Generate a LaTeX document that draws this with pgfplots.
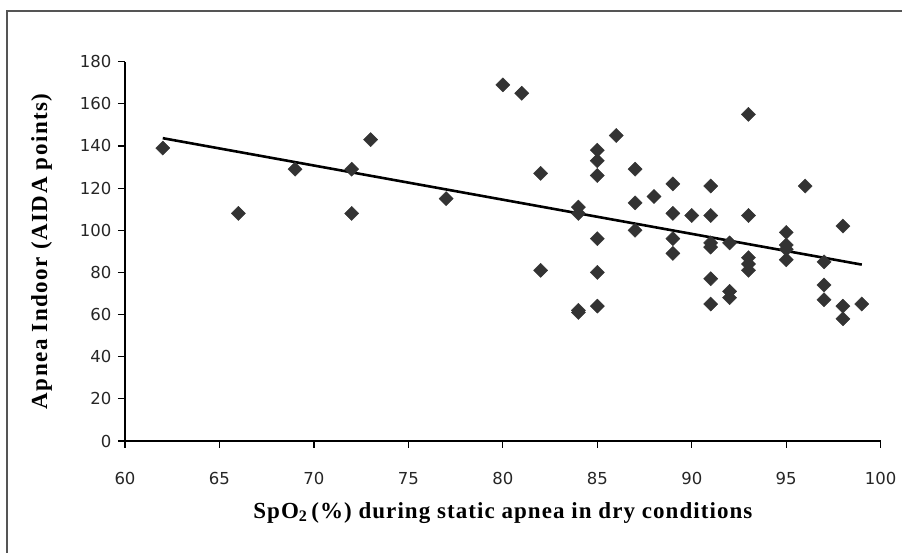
\documentclass[border=0pt]{standalone}
\usepackage{fontspec}
\setmainfont{Liberation Serif}
\newfontfamily\tickfont{DejaVu Sans}
\newfontfamily\xlabfont[LetterSpace=4.6]{Liberation Serif}
\newfontfamily\ylabfont[LetterSpace=6.5]{Liberation Serif}
\usepackage{pgfplots}
\pgfplotsset{compat=1.18}
\definecolor{mk}{HTML}{333333}
\definecolor{frame}{HTML}{555555}
\begin{document}
\begin{tikzpicture}[x=1pt,y=1pt]
\useasboundingbox (0,0) rectangle (902,553);
\draw[line width=2pt, color=frame] (7,-5) -- (7,542) -- (910,542);
\begin{axis}[
  at={(125pt,112pt)}, anchor=south west,
  scale only axis, width=755.7pt, height=379.3pt,
  xmin=60, xmax=100, ymin=0, ymax=180,
  axis lines*=left,
  axis line style={line width=1.4pt, black},
  xtick={60,65,...,100}, ytick={0,20,...,180},
  tick align=outside, major tick length=7pt,
  tick style={line width=1.2pt, black},
  /pgf/number format/assume math mode=true,
  ticklabel style={font=\tickfont\fontsize{16.5}{19}\selectfont, text=black!85},
  yticklabel style={xshift=-3pt},
  xticklabel style={yshift=-21pt},
  xlabel={SpO\textsubscript{2}\,(\%) during static apnea in dry conditions},
  ylabel={Apnea Indoor (AIDA points)},
  xlabel style={font=\xlabfont\bfseries\fontsize{23}{26}\selectfont, at={(axis description cs:0.5,-0.2035)}, anchor=base},
  ylabel style={font=\ylabfont\bfseries\fontsize{23}{26}\selectfont, at={(axis description cs:-0.1032,0.5)}, anchor=base, rotate=0},
  clip=false,
]
\addplot[only marks, mark=square*, mark size=5pt, mark options={rotate=45, fill=mk, draw=mk}] table {
x y
62 139
66 108
69 129
72 129
72 108
73 143
77 115
80 169
81 165
82 127
82 81
84 111
84 108
84 62
84 61
85 138
85 133
85 126
85 96
85 80
85 64
86 145
87 129
87 113
87 100
88 116
89 122
89 108
89 96
89 89
90 107
91 121
91 107
91 94
91 92
91 77
91 65
92 94
92 71
92 68
93 155
93 107
93 87
93 84
93 81
95 99
95 93
95 91
95 86
96 121
97 85
97 74
97 67
98 102
98 64
98 58
99 65
};
\addplot[black, line width=2.6pt] coordinates {(62,143.7) (99,83.7)};
\end{axis}
\end{tikzpicture}
\end{document}
